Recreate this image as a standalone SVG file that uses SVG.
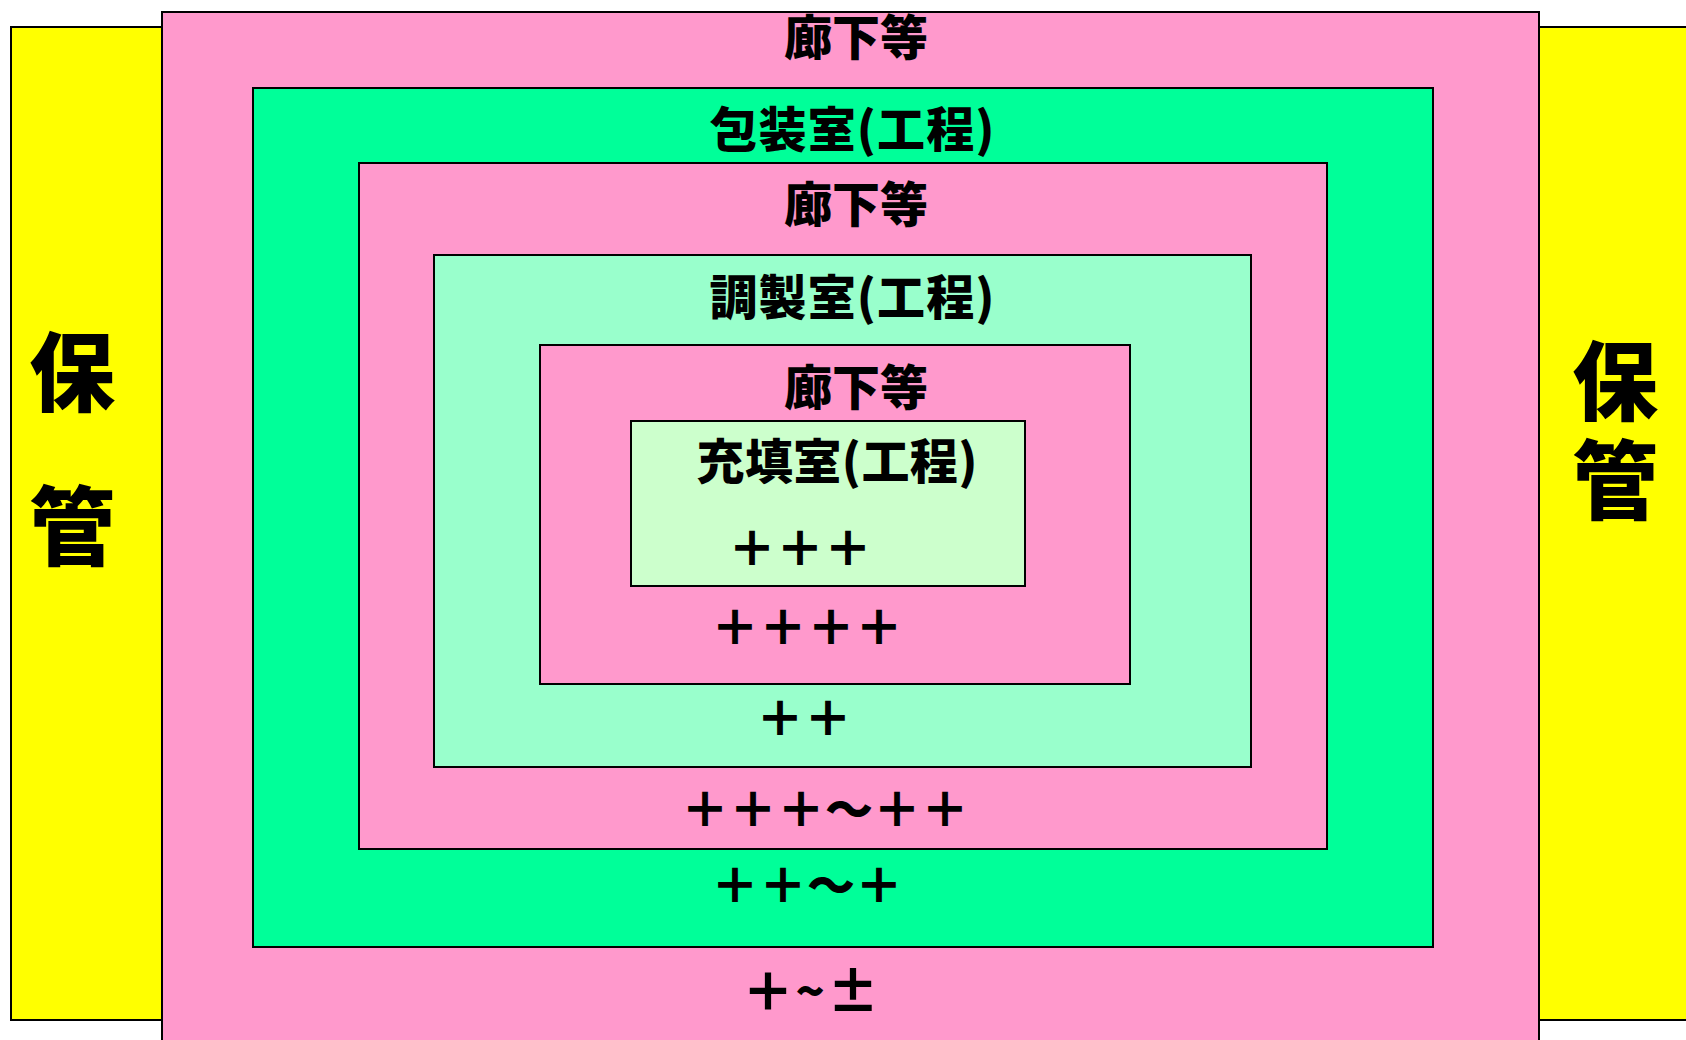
<svg xmlns="http://www.w3.org/2000/svg" width="1686" height="1040" viewBox="0 0 1686 1040">
<style>
.box{stroke:#000;stroke-width:2}
.y{fill:#FFFF00}
.p{fill:#FF99CC}
.g1{fill:#00FF99}
.g2{fill:#99FFCC}
.g3{fill:#CCFFCC}
text{font-family:"Noto Sans CJK JP","Noto Sans CJK SC",sans-serif;font-weight:900;fill:#000;text-anchor:middle}
.t{font-size:48px}
.big{font-size:86px}
</style>
<rect width="1686" height="1040" fill="#fff"/>
<g id="storage-left">
<rect class="box y" x="11" y="27" width="151" height="993"/>
<text class="big" x="72" y="405">保</text>
<text class="big" x="72" y="559">管</text>
</g>
<g id="storage-right">
<rect class="box y" x="1539" y="27" width="160" height="993"/>
<text class="big" x="1615" y="338" writing-mode="vertical-rl" letter-spacing="13" style="text-anchor:start">保管</text>
</g>
<g id="corridor-outer">
<rect class="box p" x="162" y="12" width="1377" height="1040"/>
<text class="t" x="856" y="55">廊下等</text>
<text class="t" style="font-size:52px" x="768" y="1011">＋</text>
<text class="t" x="810" y="1009">~</text>
<text class="t" style="font-size:52px" x="853" y="1011">±</text>
</g>
<g id="packaging-room">
<rect class="box g1" x="253" y="88" width="1180" height="859"/>
<text class="t" x="852" y="147" textLength="285">包装室(工程)</text>
<text class="t" x="807" y="903">＋＋～＋</text>
</g>
<g id="corridor-middle">
<rect class="box p" x="359" y="163" width="968" height="686"/>
<text class="t" x="856" y="222">廊下等</text>
<text class="t" x="825" y="827">＋＋＋～＋＋</text>
</g>
<g id="preparation-room">
<rect class="box g2" x="434" y="255" width="817" height="512"/>
<text class="t" x="852" y="315" textLength="285">調製室(工程)</text>
<text class="t" x="804" y="736">＋＋</text>
</g>
<g id="corridor-inner">
<rect class="box p" x="540" y="345" width="590" height="339"/>
<text class="t" x="856" y="405">廊下等</text>
<text class="t" x="807" y="645">＋＋＋＋</text>
</g>
<g id="filling-room">
<rect class="box g3" x="631" y="421" width="394" height="165"/>
<text class="t" x="837" y="479" textLength="281">充填室(工程)</text>
<text class="t" x="800" y="566">＋＋＋</text>
</g>
<g id="connectors"/>
</svg>
